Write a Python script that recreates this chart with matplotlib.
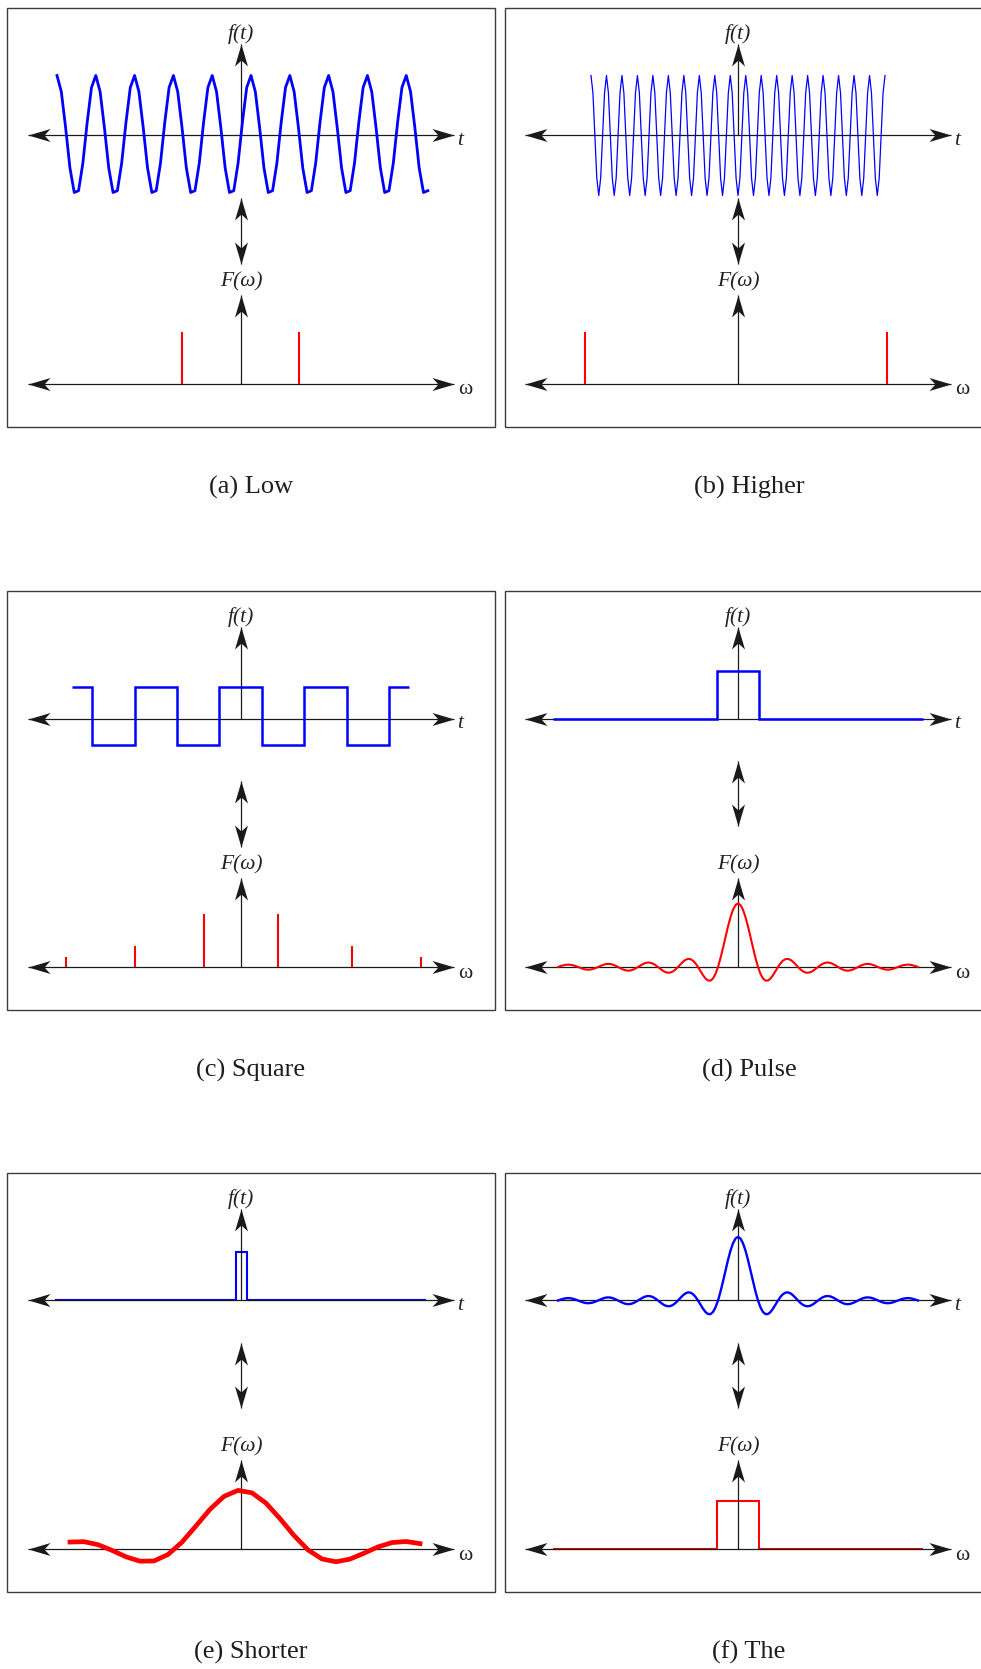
import numpy as np
import matplotlib
matplotlib.use("Agg")
import matplotlib.pyplot as plt
from matplotlib.path import Path
from matplotlib.markers import MarkerStyle
from matplotlib.transforms import Affine2D
from matplotlib.patches import Rectangle

plt.rcParams['font.family'] = ['Liberation Serif', 'DejaVu Serif']

# ------------------------------------------------------------------ data
CAPTIONS = ["(a) Low", "(b) Higher", "(c) Square", "(d) Pulse", "(e) Shorter", "(f) The"]

# (a) low-frequency sinusoid (sampled values), spectrum = two spikes
A_T_RANGE = [-9.2, 9.34]
A_F = [
    1.00, 0.73, 0.13, -0.54, -0.95, -0.92, -0.46, 0.22, 0.80,
    1.00, 0.73, 0.13, -0.54, -0.95, -0.92, -0.46, 0.22, 0.80,
    1.00, 0.73, 0.13, -0.54, -0.95, -0.92, -0.46, 0.22, 0.80,
    1.00, 0.73, 0.13, -0.54, -0.95, -0.92, -0.46, 0.22, 0.80,
    1.00, 0.73, 0.13, -0.54, -0.95, -0.92, -0.46, 0.22, 0.80,
    1.00, 0.73, 0.13, -0.54, -0.95, -0.92, -0.46, 0.22, 0.80,
    1.00, 0.73, 0.13, -0.54, -0.95, -0.92, -0.46, 0.22, 0.80,
    1.00, 0.73, 0.13, -0.54, -0.95, -0.92, -0.46, 0.22, 0.80,
    1.00, 0.73, 0.13, -0.54, -0.95, -0.92, -0.46, 0.22, 0.80,
    1.00, 0.73, 0.13, -0.54, -0.95, -0.92,
]
A_SPIKE_W = [-2.95, 2.9]
A_SPIKE_H = [0.87, 0.87]

# (b) higher-frequency sinusoid
B_T_RANGE = [-7.35, 7.35]
B_F = [
    1, 0.71, 0, -0.71, -1, -0.71, 0, 0.71,
    1, 0.71, 0, -0.71, -1, -0.71, 0, 0.71,
    1, 0.71, 0, -0.71, -1, -0.71, 0, 0.71,
    1, 0.71, 0, -0.71, -1, -0.71, 0, 0.71,
    1, 0.71, 0, -0.71, -1, -0.71, 0, 0.71,
    1, 0.71, 0, -0.71, -1, -0.71, 0, 0.71,
    1, 0.71, 0, -0.71, -1, -0.71, 0, 0.71,
    1, 0.71, 0, -0.71, -1, -0.71, 0, 0.71,
    1, 0.71, 0, -0.71, -1, -0.71, 0, 0.71,
    1, 0.71, 0, -0.71, -1, -0.71, 0, 0.71,
    1, 0.71, 0, -0.71, -1, -0.71, 0, 0.71,
    1, 0.71, 0, -0.71, -1, -0.71, 0, 0.71,
    1, 0.71, 0, -0.71, -1, -0.71, 0, 0.71,
    1, 0.71, 0, -0.71, -1, -0.71, 0, 0.71,
    1, 0.71, 0, -0.71, -1, -0.71, 0, 0.71,
    1, 0.71, 0, -0.71, -1, -0.71, 0, 0.71,
    1, 0.71, 0, -0.71, -1, -0.71, 0, 0.71,
    1, 0.71, 0, -0.71, -1, -0.71, 0, 0.71,
    1, 0.71, 0, -0.71, -1, -0.71, 0, 0.71,
    1,
]
B_SPIKE_W = [-7.65, 7.45]
B_SPIKE_H = [0.87, 0.87]

# (c) square wave and its harmonics
C_EDGES = [-8.45, -7.45, -5.3, -3.2, -1.1, 1.05, 3.15, 5.3, 7.4, 8.4]
C_LEVELS = [0.52, -0.44, 0.52, -0.44, 0.52, -0.44, 0.52, -0.44, 0.52]
C_SPIKE_W = [-8.75, -5.32, -1.87, 1.85, 5.55, 9.0]
C_SPIKE_H = [0.17, 0.35, 0.88, 0.88, 0.35, 0.17]

# sinc-shaped curve (used for the spectrum in (d) and the signal in (f))
SINC_RANGE = [-9.0, 9.0]
SINC_F = [
    0, 0.015, 0.027, 0.036, 0.040, 0.037, 0.029, 0.016,
    0, -0.016, -0.031, -0.041, -0.045, -0.042, -0.033, -0.018,
    0, 0.019, 0.035, 0.047, 0.052, 0.049, 0.038, 0.021,
    0, -0.022, -0.041, -0.055, -0.061, -0.058, -0.045, -0.025,
    0, 0.027, 0.050, 0.067, 0.075, 0.071, 0.056, 0.031,
    0, -0.033, -0.064, -0.086, -0.096, -0.092, -0.073, -0.041,
    0, 0.045, 0.087, 0.119, 0.135, 0.131, 0.106, 0.061,
    0, -0.069, -0.136, -0.192, -0.225, -0.227, -0.191, -0.115,
    0, 0.148, 0.318, 0.499, 0.675, 0.831, 0.954, 1.033,
    1.060,
    1.033, 0.954, 0.831, 0.675, 0.499, 0.318, 0.148, 0,
    -0.115, -0.191, -0.227, -0.225, -0.192, -0.136, -0.069, 0,
    0.061, 0.106, 0.131, 0.135, 0.119, 0.087, 0.045, 0,
    -0.041, -0.073, -0.092, -0.096, -0.086, -0.064, -0.033, 0,
    0.031, 0.056, 0.071, 0.075, 0.067, 0.050, 0.027, 0,
    -0.025, -0.045, -0.058, -0.061, -0.055, -0.041, -0.022, 0,
    0.021, 0.038, 0.049, 0.052, 0.047, 0.035, 0.019, 0,
    -0.018, -0.033, -0.042, -0.045, -0.041, -0.031, -0.016, 0,
    0.016, 0.029, 0.037, 0.040, 0.036, 0.027, 0.015, 0,
]

# (d) rectangular pulse
D_EDGES = [-9.25, -1.05, 1.05, 9.25]
D_LEVELS = [0, 0.8, 0]

# (e) shorter pulse and its wide spectrum
E_EDGES = [-9.3, -0.275, 0.275, 9.25]
E_LEVELS = [0, 0.8, 0]
E_W_RANGE = [-8.55, 8.95]
E_F = [0.116, 0.122, 0.072, -0.023, -0.130, -0.203, -0.199, -0.092, 0.114,
       0.385, 0.661, 0.877, 0.977, 0.936, 0.764, 0.506, 0.225, -0.015,
       -0.166, -0.213, -0.168, -0.070, 0.035, 0.107, 0.125, 0.090]

# (f) band-limited spectrum (rectangle)
F_EDGES = [-9.25, -1.05, 1.05, 9.25]
F_LEVELS = [0, 0.8, 0]

# ------------------------------------------------------------------ layout / style
W, H = 981, 1669
BOX_W, BOX_H = 488, 419
XU, YU = 20.0, 60.0          # pixels per data unit
AX_HALF = 10.63              # half-length of horizontal axes
UP_TIP_TOP, UP_TIP_BOT = 1.517, 1.483
BLUE, RED, AXC = '#0000ff', '#ff0000', '#1a1a1a'

fig = plt.figure(figsize=(W / 100, H / 100), dpi=100)
fig.patch.set_facecolor('white')

_head = Path([(0, 0), (-22, 6.5), (-16, 0), (-22, -6.5), (0, 0)],
             [Path.MOVETO, Path.LINETO, Path.LINETO, Path.LINETO, Path.CLOSEPOLY])
HEADS = {d: MarkerStyle(_head, transform=Affine2D().rotate_deg(a))
         for d, a in (('r', 0), ('l', 180), ('u', 90), ('d', 270))}


def head(ax, x, y, d):
    ax.plot([x], [y], linestyle='none', marker=HEADS[d], markersize=31.7,
            color=AXC, markeredgewidth=0, clip_on=False, zorder=6)


def sub_axes(left, top, axis_x, origin_y):
    ax = fig.add_axes([left / W, 1 - (top + BOX_H) / H, BOX_W / W, BOX_H / H])
    ax.set_xlim((left - axis_x) / XU, (left + BOX_W - axis_x) / XU)
    ax.set_ylim(-(top + BOX_H - origin_y) / YU, (origin_y - top) / YU)
    ax.axis('off')
    ax.patch.set_visible(False)
    return ax


def cross(ax, tip, label, label_y, end_label, end_style):
    ax.plot([-AX_HALF, AX_HALF], [0, 0], color=AXC, lw=0.9,
            solid_capstyle='butt', zorder=3)
    ax.plot([0, 0], [0, tip], color=AXC, lw=0.9, solid_capstyle='butt', zorder=3)
    head(ax, -AX_HALF, 0, 'l')
    head(ax, AX_HALF, 0, 'r')
    head(ax, 0, tip, 'u')
    ax.text(0, label_y, label, ha='center', va='center', fontsize=15.5,
            style='italic', color='#222222')
    ax.text(end_label[0], end_label[1], end_style[0], ha='center', va='center',
            fontsize=15.5, style=end_style[1], color='#222222')


def double_arrow(ax, y0, y1):
    ax.plot([0, 0], [y0, y1], color=AXC, lw=0.9, solid_capstyle='butt', zorder=3)
    head(ax, 0, y0, 'u')
    head(ax, 0, y1, 'd')


PANELS = [
    dict(left=7, top=8, axis_x=241, cap=(251, 487), dbl=(190, 256)),
    dict(left=505, top=8, axis_x=738, cap=(749, 487), dbl=(190, 256)),
    dict(left=7, top=591, axis_x=241, cap=(251, 1070), dbl=(190, 256)),
    dict(left=505, top=591, axis_x=738, cap=(749, 1070), dbl=(170, 235)),
    dict(left=7, top=1173, axis_x=241, cap=(251, 1652), dbl=(170, 235)),
    dict(left=505, top=1173, axis_x=738, cap=(749, 1652), dbl=(170, 235)),
]

for i, p in enumerate(PANELS):
    left, top, axx = p['left'], p['top'], p['axis_x']
    fig.add_artist(Rectangle((left / W, 1 - (top + BOX_H) / H), BOX_W / W, BOX_H / H,
                             transform=fig.transFigure, fill=False,
                             edgecolor='#3c3c3c', lw=1.0))
    at = sub_axes(left, top, axx, top + 127.5)
    ab = sub_axes(left, top, axx, top + 376)
    cross(at, UP_TIP_TOP, 'f(t)', (127.5 - 26) / YU, (10.95, -0.08), ('t', 'italic'))
    cross(ab, UP_TIP_BOT, 'F(\u03c9)', (376 - 274) / YU, (11.2, -0.1), ('\u03c9', 'normal'))
    y0 = -(p['dbl'][0] - 127.5) / YU
    y1 = -(p['dbl'][1] - 127.5) / YU
    double_arrow(at, y0, y1)
    fig.text(p['cap'][0] / W, 1 - p['cap'][1] / H, CAPTIONS[i], ha='center',
             va='center', fontsize=19, color='#1e1e1e')

    if i == 0:
        at.plot(np.linspace(A_T_RANGE[0], A_T_RANGE[1], len(A_F)), A_F,
                color=BLUE, lw=2.0, zorder=4)
        ab.vlines(A_SPIKE_W, 0, A_SPIKE_H, colors=RED, lw=1.5, zorder=4)
    elif i == 1:
        at.plot(np.linspace(B_T_RANGE[0], B_T_RANGE[1], len(B_F)), B_F,
                color=BLUE, lw=0.9, zorder=4)
        ab.vlines(B_SPIKE_W, 0, B_SPIKE_H, colors=RED, lw=1.5, zorder=4)
    elif i == 2:
        at.stairs(C_LEVELS, C_EDGES, baseline=None, color=BLUE, lw=1.8, zorder=4)
        ab.vlines(C_SPIKE_W, 0, C_SPIKE_H, colors=RED, lw=1.5, zorder=4)
    elif i == 3:
        at.stairs(D_LEVELS, D_EDGES, baseline=None, color=BLUE, lw=1.8, zorder=4)
        ab.plot(np.linspace(SINC_RANGE[0], SINC_RANGE[1], len(SINC_F)), SINC_F,
                color=RED, lw=1.5, zorder=4)
    elif i == 4:
        at.stairs(E_LEVELS, E_EDGES, baseline=None, color=BLUE, lw=1.5, zorder=2)
        ab.plot(np.linspace(E_W_RANGE[0], E_W_RANGE[1], len(E_F)), E_F,
                color=RED, lw=3.4, zorder=4)
    else:
        at.plot(np.linspace(SINC_RANGE[0], SINC_RANGE[1], len(SINC_F)), SINC_F,
                color=BLUE, lw=1.7, zorder=4)
        ab.stairs(F_LEVELS, F_EDGES, baseline=None, color=RED, lw=1.5, zorder=2)

fig.savefig('out.png', dpi=100, facecolor='white')
